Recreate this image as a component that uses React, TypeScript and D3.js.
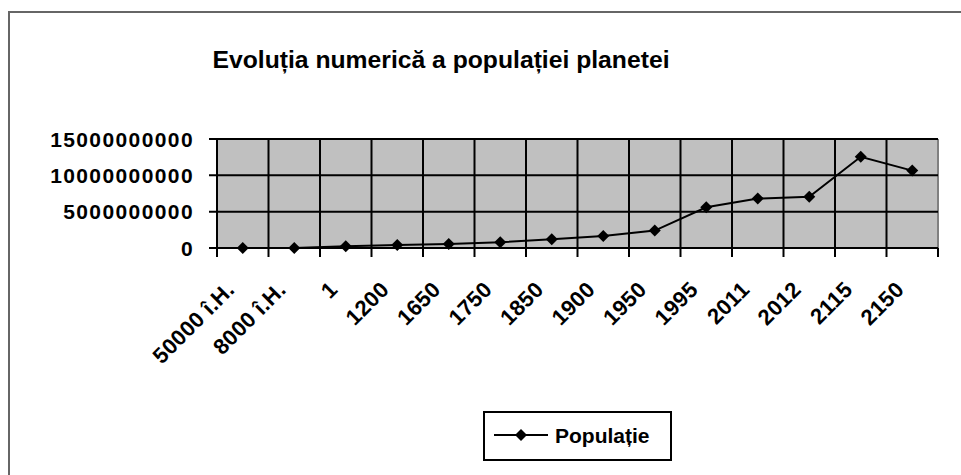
import React from "react";
import * as d3 from "d3";

// categories and population values
const categories = [
  "50000 î.H.",
  "8000 î.H.",
  "1",
  "1200",
  "1650",
  "1750",
  "1850",
  "1900",
  "1950",
  "1995",
  "2011",
  "2012",
  "2115",
  "2150",
];
const population = [
  3000000, 5000000, 250000000, 400000000, 550000000, 790000000, 1200000000,
  1650000000, 2400000000, 5600000000, 6800000000, 7050000000, 12550000000,
  10650000000,
];
const yTicks = [0, 5000000000, 10000000000, 15000000000];

const title = "Evoluția numerică a populației planetei";
const seriesName = "Populație";

const width = 961;
const height = 475;
const margin = { top: 139, right: 20, bottom: 227, left: 217 };
const font = "'Liberation Sans', Arial, sans-serif";

function Diamond({ x, y, r = 6 }: { x: number; y: number; r?: number }) {
  return (
    <path
      d={`M${x},${y - r}L${x + r},${y}L${x},${y + r}L${x - r},${y}Z`}
      fill="#000"
    />
  );
}

export default function App() {
  const x0 = margin.left;
  const x1 = width - margin.right - 3;
  const y0 = height - margin.bottom;
  const y1 = margin.top;

  const xScale = d3.scaleBand<string>().domain(categories).range([x0, x1]);
  const yScale = d3.scaleLinear().domain([0, 15000000000]).range([y0, y1]);

  const line = d3
    .line<number>()
    .x((_, i) => (xScale(categories[i]) ?? 0) + xScale.bandwidth() / 2)
    .y((d) => yScale(d));

  const bounds = categories.map((c) => xScale(c) ?? 0).concat([x1]);

  return (
    <svg
      width={width}
      height={height}
      style={{ position: "absolute", left: 0, top: 0, background: "#fff" }}
      fontFamily={font}
    >
      {/* outer chart border (top + left) */}
      <path d={`M9,${height}V12H${width}`} fill="none" stroke="#666" strokeWidth={2} />

      <text
        x={441}
        y={68}
        textAnchor="middle"
        fontSize={24}
        fontWeight="bold"
        textLength={457}
        lengthAdjust="spacingAndGlyphs"
      >
        {title}
      </text>

      {/* plot area */}
      <rect x={x0} y={y1} width={x1 - x0} height={y0 - y1} fill="#c0c0c0" />
      <line x1={x0} x2={x1} y1={y1} y2={y1} stroke="#808080" strokeWidth={2} />
      <line x1={x1} x2={x1} y1={y1} y2={y0} stroke="#808080" strokeWidth={2} />

      {/* horizontal grid + y ticks */}
      {yTicks.map((t) => (
        <g key={t}>
          <line
            x1={x0 - 8}
            x2={x1}
            y1={yScale(t)}
            y2={yScale(t)}
            stroke="#000"
            strokeWidth={2}
          />
          <text
            x={194}
            y={yScale(t)}
            dy="0.36em"
            textAnchor="end"
            fontSize={21}
            fontWeight="bold"
            letterSpacing={1.4}
          >
            {t}
          </text>
        </g>
      ))}

      {/* vertical grid + x ticks */}
      {bounds.map((bx, i) => (
        <line
          key={i}
          x1={bx}
          x2={bx}
          y1={i === bounds.length - 1 ? y0 : y1}
          y2={y0 + 9}
          stroke="#000"
          strokeWidth={2}
        />
      ))}

      {/* x labels */}
      {categories.map((c) => {
        const cx = (xScale(c) ?? 0) + xScale.bandwidth() / 2;
        const ax = cx - 7;
        const ay = 291;
        return (
          <text
            key={c}
            x={ax}
            y={ay}
            transform={`rotate(-45,${ax},${ay})`}
            textAnchor="end"
            fontSize={22}
            fontWeight="bold"
            letterSpacing={0.3}
          >
            {c}
          </text>
        );
      })}

      {/* series */}
      <path d={line(population) ?? ""} fill="none" stroke="#000" strokeWidth={2} />
      {population.map((v, i) => (
        <Diamond
          key={i}
          x={(xScale(categories[i]) ?? 0) + xScale.bandwidth() / 2}
          y={yScale(v)}
        />
      ))}

      {/* legend */}
      <rect x={484} y={412} width={187} height={48} fill="#fff" stroke="#000" strokeWidth={2} />
      <line x1={494} x2={548} y1={435} y2={435} stroke="#000" strokeWidth={2} />
      <Diamond x={521} y={435} r={6} />
      <text x={555} y={435} dy="0.36em" fontSize={21} fontWeight="bold">
        {seriesName}
      </text>
    </svg>
  );
}
